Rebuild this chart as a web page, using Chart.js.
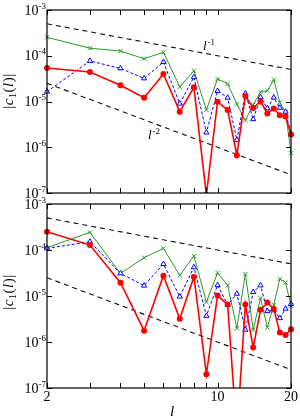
<!DOCTYPE html>
<html>
<head>
<meta charset="utf-8">
<script src="https://cdn.jsdelivr.net/npm/chart.js@4/dist/chart.umd.min.js"></script>
<style>
html, body { margin: 0; padding: 0; background: #fff; }
#wrap { position: relative; width: 300px; height: 418px; }
canvas { position: absolute; left: 0; top: 0; }
</style>
</head>
<body>
<div id="wrap">
  <canvas id="topChart" width="300" height="418"></canvas>
  <canvas id="bottomChart" width="300" height="418"></canvas>
</div>
<script>
// l values on the x axis
const ls = [2, 3, 4, 5, 6, 7, 8, 9, 10, 11, 12, 13, 14, 15, 16, 17, 18, 19, 20];

// upper panel
const topRed   = [5.4e-5, 4.4e-5, 2.26e-5, 1.21e-5, 4.0e-5, 6.0e-6, 2.04e-5, 9e-8, 9.9e-6, 6.5e-6, 6.7e-7, 1.32e-5, 7.2e-6, 1.0e-5, 5.5e-6, 7.0e-6, 5.0e-6, 4.7e-6, 1.9e-6];
const topBlue  = [1.64e-5, 7.7e-5, 5.3e-5, 3.2e-5, 7.3e-5, 9.0e-6, 3.4e-5, 2.1e-6, 1.7e-5, 1.21e-5, 1.45e-6, 1.5e-5, 4.1e-6, 1.24e-5, 7.1e-6, 1.22e-5, 7.3e-6, 6.0e-6, 1.95e-6];
const topGreen = [2.53e-4, 1.46e-4, 1.27e-4, 8.6e-5, 1.19e-4, 2.1e-5, 4.7e-5, 6.6e-6, 3.1e-5, 2.45e-5, 8.8e-6, 3.9e-6, 8.5e-6, 1.6e-5, 1.72e-5, 3.0e-5, 9.5e-6, 5.8e-6, 7.4e-7];

// lower panel
const botRed   = [2.5e-4, 1.28e-4, 1.95e-5, 1.76e-6, 2.77e-5, 3.2e-6, 2.6e-5, 2.0e-7, 1.02e-5, 6.5e-6, 1e-8, 6.5e-6, 7.6e-7, 5.0e-6, 7.2e-6, 5.2e-6, 1.6e-6, 1.42e-6, 1.89e-6];
const botBlue  = [1.09e-4, 1.51e-4, 3.1e-5, 1.68e-5, 4.96e-5, 9.7e-6, 4.2e-5, 3.7e-6, 1.72e-5, 6.4e-6, 1.12e-5, 1.85e-6, 1.22e-5, 1.7e-5, 4.7e-6, 4.9e-6, 3.3e-6, 5.3e-6, 6.7e-6];
const botGreen = [1.12e-4, 2.42e-4, 3.1e-5, 6.8e-5, 1.09e-4, 2.8e-5, 7.4e-5, 7.4e-6, 3.2e-5, 1.71e-5, 2.0e-6, 3.0e-5, 1.85e-6, 9.0e-6, 2.07e-6, 6.4e-6, 2.35e-5, 1.96e-5, 6.1e-6];

// power-law guide lines, given at their two ends
const refEnds = [2, 20];
const refL1 = [5e-4, 5e-5];
const refL2 = [2.5e-5, 2.5e-7];

// ticks
const xTicks = [2, 3, 4, 5, 6, 7, 8, 9, 10, 20];
const xTickLabels = [2, 10, 20];
const yTicks = [1e-3, 1e-4, 1e-5, 1e-6, 1e-7];
const yTickExps = ["-3", "-4", "-5", "-6", "-7"];

const serif = '"Liberation Serif", "DejaVu Serif", serif';

const pts = (xs, ys) => xs.map((x, i) => ({ x: x, y: ys[i] }));

const drawSup = (ctx, base, sup, x, y, size, supSize, align) => {
  ctx.font = `${size}px ${serif}`;
  const wb = ctx.measureText(base).width;
  ctx.font = `${supSize}px ${serif}`;
  const ws = ctx.measureText(sup).width;
  let x0 = x;
  if (align === "right") x0 = x - wb - ws;
  ctx.font = `${size}px ${serif}`;
  ctx.textAlign = "left";
  ctx.fillText(base, x0, y);
  ctx.font = `${supSize}px ${serif}`;
  ctx.fillText(sup, x0 + wb, y - size * 0.42);
};

const framePlugin = {
  id: "frame",
  afterDraw(chart, args, opts) {
    const ctx = chart.ctx;
    const a = chart.chartArea;
    const xs = chart.scales.x;
    const ys = chart.scales.y;
    ctx.save();
    ctx.strokeStyle = "#000";
    ctx.fillStyle = "#000";
    ctx.lineWidth = 1.2;
    ctx.strokeRect(a.left, a.top, a.right - a.left, a.bottom - a.top);

    ctx.lineWidth = 1;
    ctx.beginPath();
    xTicks.forEach((v) => {
      const px = Math.round(xs.getPixelForValue(v)) + 0.5;
      ctx.moveTo(px, a.bottom); ctx.lineTo(px, a.bottom - 5);
      ctx.moveTo(px, a.top); ctx.lineTo(px, a.top + 5);
    });
    yTicks.forEach((v) => {
      const py = Math.round(ys.getPixelForValue(v)) + 0.5;
      ctx.moveTo(a.left, py); ctx.lineTo(a.left + 5, py);
      ctx.moveTo(a.right, py); ctx.lineTo(a.right - 5, py);
    });
    ctx.stroke();

    // y tick labels, 10^n
    ctx.textBaseline = "alphabetic";
    yTicks.forEach((v, i) => {
      const py = ys.getPixelForValue(v);
      drawSup(ctx, "10", yTickExps[i], a.left - 1, py + 4.5, 14, 9, "right");
    });

    // x tick labels
    if (opts.xLabels) {
      ctx.font = `14px ${serif}`;
      ctx.textAlign = "center";
      xTickLabels.forEach((v) => {
        ctx.fillText(String(v), xs.getPixelForValue(v), a.bottom + 13);
      });
      ctx.font = `italic 15px ${serif}`;
      ctx.fillText("l", (a.left + a.right) / 2 + 3, a.bottom + 28);
    }

    // guide line labels
    if (opts.refLabels) {
      ctx.textAlign = "left";
      ctx.font = `italic 13px ${serif}`;
      ctx.fillText("l", 203, 50);
      ctx.font = `9px ${serif}`;
      ctx.fillText("-1", 207.5, 45);
      ctx.font = `italic 13px ${serif}`;
      ctx.fillText("l", 148, 139);
      ctx.font = `9px ${serif}`;
      ctx.fillText("-2", 152.5, 134);
    }

    // y axis title |c1(l)|
    ctx.translate(13, opts.titleY);
    ctx.rotate(-Math.PI / 2);
    const parts = [
      ["|", `15px ${serif}`, 0],
      ["c", `italic 15px ${serif}`, 0],
      ["1", `10px ${serif}`, 3],
      ["(", `15px ${serif}`, 0],
      ["l", `italic 15px ${serif}`, 0],
      [")", `15px ${serif}`, 0],
      ["|", `15px ${serif}`, 0]
    ];
    let total = 0;
    parts.forEach((p) => { ctx.font = p[1]; total += ctx.measureText(p[0]).width + 0.5; });
    let cx = -total / 2;
    ctx.textAlign = "left";
    parts.forEach((p) => {
      ctx.font = p[1];
      ctx.fillText(p[0], cx, p[2]);
      cx += ctx.measureText(p[0]).width + 0.5;
    });
    ctx.restore();
  }
};

const makeChart = (id, red, blue, green, padding, frameOpts) => {
  const ctx = document.getElementById(id).getContext("2d");
  const clip = { left: 6, right: 6, top: 6, bottom: 0 };
  return new Chart(ctx, {
    type: "line",
    data: {
      datasets: [
        {
          data: pts(ls, red),
          borderColor: "#ff0000",
          backgroundColor: "#ff0000",
          borderWidth: 1.6,
          pointStyle: "circle",
          pointRadius: 3,
          pointBorderWidth: 0,
          pointBackgroundColor: "#ff0000",
          clip: clip
        },
        {
          data: pts(ls, blue),
          borderColor: "#0000ff",
          borderWidth: 1,
          borderDash: [3, 2],
          pointStyle: "triangle",
          pointRadius: 3,
          pointBorderWidth: 1,
          pointBackgroundColor: "#ffffff",
          pointBorderColor: "#0000ff",
          clip: clip
        },
        {
          data: pts(ls, green),
          borderColor: "#2a982a",
          borderWidth: 1,
          pointStyle: "crossRot",
          pointRadius: 3,
          pointBorderWidth: 1,
          pointBorderColor: "#2a982a",
          clip: clip
        },
        {
          data: pts(refEnds, refL1),
          borderColor: "#111",
          borderWidth: 1.1,
          borderDash: [5, 4],
          pointRadius: 0
        },
        {
          data: pts(refEnds, refL2),
          borderColor: "#111",
          borderWidth: 1.1,
          borderDash: [5, 4],
          pointRadius: 0
        }
      ]
    },
    options: {
      responsive: false,
      animation: false,
      events: [],
      layout: { padding: padding },
      scales: {
        x: { type: "logarithmic", min: 2, max: 20, display: false },
        y: { type: "logarithmic", min: 1e-7, max: 1e-3, display: false }
      },
      plugins: {
        legend: { display: false },
        tooltip: { enabled: false },
        frame: frameOpts
      }
    },
    plugins: [framePlugin]
  });
};

makeChart("topChart", topRed, topBlue, topGreen,
  { left: 47, right: 9, top: 10, bottom: 225 },
  { xLabels: false, refLabels: true, titleY: 91 });
makeChart("bottomChart", botRed, botBlue, botGreen,
  { left: 47, right: 9, top: 204, bottom: 30 },
  { xLabels: true, refLabels: false, titleY: 292 });
</script>
</body>
</html>
